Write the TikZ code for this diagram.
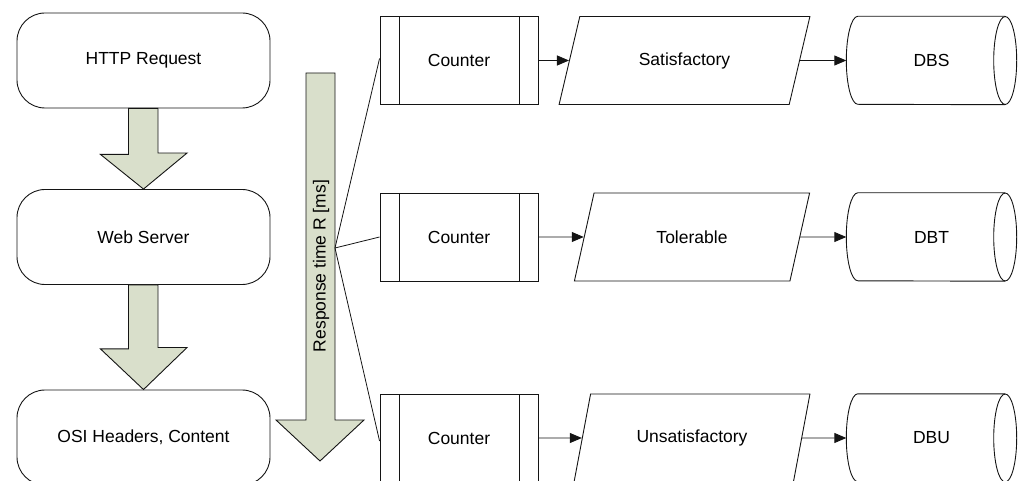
\documentclass[tikz,border=0pt]{standalone}
\usepackage{fontspec}
\setmainfont{Liberation Sans}
\usetikzlibrary{shapes.geometric,arrows.meta,calc}
\definecolor{flowgreen}{RGB}{217,223,203}
\definecolor{edge}{RGB}{20,20,20}
\tikzset{
  every node/.style={font=\fontsize{17.5}{20}\selectfont, inner sep=0pt},
  stage/.style={draw=edge, line width=0.9pt, rectangle, rounded corners=28pt,
    minimum width=253pt, minimum height=95pt},
  counterbox/.style={draw=edge, line width=0.9pt, rectangle,
    minimum width=158pt, minimum height=88pt,
    path picture={
      \draw[edge, line width=0.9pt]
        ([xshift=19pt]path picture bounding box.north west) --
        ([xshift=19pt]path picture bounding box.south west)
        ([xshift=-19pt]path picture bounding box.north east) --
        ([xshift=-19pt]path picture bounding box.south east);
    }},
  ratingbox/.style={draw=edge, line width=0.9pt, trapezium,
    trapezium left angle=61, trapezium right angle=119,
    trapezium stretches=true, minimum height=88pt},
  storebody/.style={rectangle, minimum width=147pt, minimum height=88pt},
  storeline/.style={draw=edge, line width=0.9pt},
  flowarrow/.style={fill=flowgreen, draw=edge, line width=0.9pt, line join=miter},
  conn/.style={draw=edge, line width=0.9pt, -{Triangle[length=12pt,width=10pt]}},
  fanline/.style={draw=edge, line width=0.8pt}
}
\begin{document}
\begin{tikzpicture}[x=1pt, y=-1pt]
\useasboundingbox (0,0) rectangle (1021,481);
\clip (0,0) rectangle (1021,481);

% processing stages on the left
\node[stage] (http) at (143.5,60.5) {HTTP Request};
\node[stage] (web)  at (143.5,237)  {Web Server};
\node[stage] (osi)  at (143.5,437.5) {OSI Headers, Content};

% block arrows between the stages
\draw[flowarrow] ([xshift=-15pt]http.south) -- ++(0,46) -- ++(-28,0)
  -- (web.north) -- ++(43.5,-36) -- ++(-29,0) -- ([xshift=14.5pt]http.south) -- cycle;
\draw[flowarrow] ([xshift=-15pt]web.south) -- ++(0,64) -- ++(-28,0)
  -- (osi.north) -- ++(43.5,-42) -- ++(-29,0) -- ([xshift=14.5pt]web.south) -- cycle;

% response time axis
\draw[flowarrow] (306,73) -- (306,420) -- (276,420) -- (320,461)
  -- (364,420) -- (335,420) -- (335,73) -- cycle;
\node[rotate=90] (rt) at (321,266) {Response time R [ms]};
\coordinate (fan) at (335,248);

% counters
\node[counterbox] (c1) at (459,60.5) {Counter};
\node[counterbox] (c2) at (459,237)  {Counter};
\node[counterbox] (c3) at (459,438)  {Counter};

% ratings
\node[ratingbox, minimum width=251pt] (r1) at (684.5,60.5) {Satisfactory};
\node[ratingbox, minimum width=236pt] (r2) at (692,237) {Tolerable};
\node[ratingbox, minimum width=236pt] (r3) at (692,438) {Unsatisfactory};

% data stores: horizontal drums with a rounded back and an open front end
\node[storebody] (dbs) at (931.5,60.5) {DBS};
\node[storebody] (dbt) at (931.5,237)  {DBT};
\node[storebody] (dbu) at (931.5,438)  {DBU};
\foreach \d in {dbs,dbt,dbu}{
  \draw[storeline] (\d.north east) -- (\d.north west)
    arc[start angle=270, end angle=90, x radius=11.5, y radius=44]
    -- (\d.south east);
  \draw[storeline] (\d.east) ellipse[x radius=11.5, y radius=44];
  \coordinate (\d-in) at ([xshift=-11.5pt]\d.west);
}

% fan-out from the time axis
\draw[fanline] (fan) -- ([yshift=2pt]c1.west);
\draw[fanline] (fan) -- (c2.west);
\draw[fanline] (fan) -- ([yshift=-3pt]c3.west);

% connectors
\draw[conn] (c1.east) -- (r1.west);
\draw[conn] (r1.east) -- (dbs-in);
\draw[conn] (c2.east) -- (r2.west);
\draw[conn] (r2.east) -- (dbt-in);
\draw[conn] (c3.east) -- (r3.west);
\draw[conn] (r3.east) -- (dbu-in);
\end{tikzpicture}
\end{document}
